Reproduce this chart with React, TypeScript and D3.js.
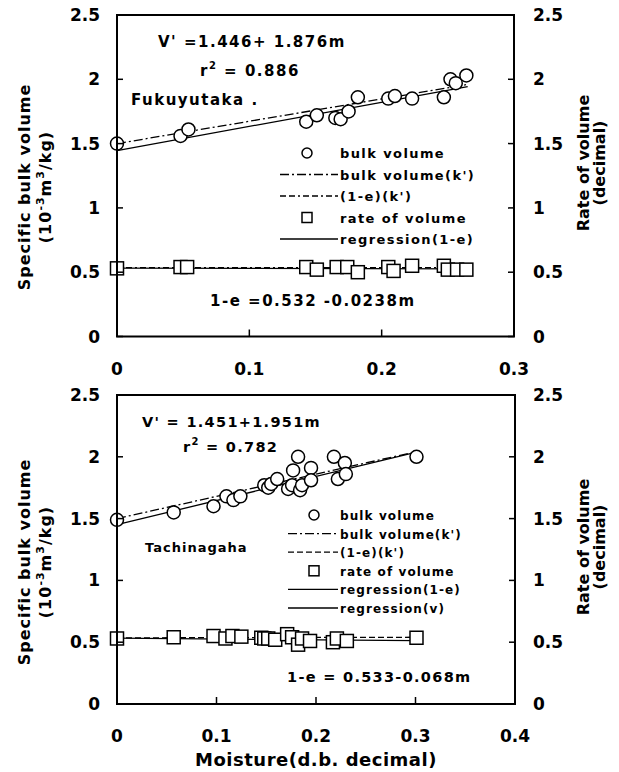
import React from "react";
import * as d3 from "d3";

// ---------- data ----------
const yTicks = [0, 0.5, 1, 1.5, 2, 2.5];
const yTickLabels = ["0", "0.5", "1", "1.5", "2", "2.5"];
const topXTicks = [0, 0.1, 0.2, 0.3];
const topXTickLabels = ["0", "0.1", "0.2", "0.3"];
const botXTicks = [0, 0.1, 0.2, 0.3, 0.4];
const botXTickLabels = ["0", "0.1", "0.2", "0.3", "0.4"];

// Fukuyutaka
const topBulkM = [0, 0.048, 0.054, 0.143, 0.151, 0.165, 0.169, 0.175, 0.182, 0.205, 0.21, 0.223, 0.247, 0.252, 0.256, 0.264];
const topBulkV = [1.5, 1.56, 1.61, 1.67, 1.72, 1.7, 1.69, 1.75, 1.86, 1.85, 1.87, 1.85, 1.86, 2.0, 1.97, 2.03];
const topRateM = [0, 0.048, 0.053, 0.143, 0.151, 0.166, 0.174, 0.182, 0.205, 0.209, 0.223, 0.247, 0.25, 0.257, 0.264];
const topRateV = [0.53, 0.54, 0.54, 0.54, 0.52, 0.54, 0.54, 0.5, 0.54, 0.51, 0.55, 0.55, 0.52, 0.52, 0.52];
const topRegV = [1.446, 1.876]; // intercept, slope
const topRegR = [0.532, -0.0238];
const topBulkK = [[0, 1.5], [0.265, 1.96]];
const topRateK = [[0, 0.536], [0.265, 0.536]];
const topRange = [0, 0.265];

// Tachinagaha
const botBulkM = [0, 0.057, 0.097, 0.11, 0.117, 0.124, 0.148, 0.152, 0.155, 0.161, 0.172, 0.176, 0.177, 0.182, 0.184, 0.186, 0.195, 0.195, 0.218, 0.222, 0.229, 0.23, 0.301];
const botBulkV = [1.49, 1.55, 1.6, 1.68, 1.65, 1.68, 1.77, 1.75, 1.78, 1.82, 1.74, 1.77, 1.89, 2.0, 1.73, 1.77, 1.91, 1.81, 2.0, 1.82, 1.95, 1.86, 2.0];
const botRateM = [0, 0.057, 0.097, 0.109, 0.116, 0.125, 0.145, 0.148, 0.152, 0.159, 0.171, 0.176, 0.182, 0.186, 0.194, 0.217, 0.221, 0.231, 0.301];
const botRateV = [0.53, 0.54, 0.55, 0.53, 0.55, 0.545, 0.536, 0.53, 0.53, 0.52, 0.565, 0.54, 0.48, 0.53, 0.51, 0.5, 0.53, 0.51, 0.536];
const botRegV = [1.451, 1.951];
const botRegR = [0.533, -0.068];
const botBulkK = [[0, 1.5], [0.3, 2.04]];
const botRateK = [[0, 0.535], [0.3, 0.54]];
const botRange = [0, 0.3];

const topLegend = ["bulk volume", "bulk volume(k')", "(1-e)(k')", "rate of volume", "regression(1-e)"];
const botLegend = ["bulk volume", "bulk volume(k')", "(1-e)(k')", "rate of volume", "regression(1-e)", "regression(v)"];

const FONT = "'DejaVu Sans', 'Liberation Sans', sans-serif";
const DASHDOT = "9,3,2,3";
const DASHDOT2 = "6,3,6,3,2,3";
const DASH = "6,3";

type PanelProps = {
  left: number; right: number; top: number; bottom: number;
  xMax: number; xTicks: number[]; xTickLabels: string[];
  bulkM: number[]; bulkV: number[]; rateM: number[]; rateV: number[];
  regV: number[]; regR: number[]; bulkK: number[][]; rateK: number[][]; range: number[];
  rateKDash: string;
};

function Panel(p: PanelProps) {
  const x = d3.scaleLinear().domain([0, p.xMax]).range([p.left, p.right]);
  const y = d3.scaleLinear().domain([0, 2.5]).range([p.bottom, p.top]);
  const line = d3.line<number[]>().x((d) => x(d[0])).y((d) => y(d[1]));
  const regVPts = p.range.map((m) => [m, p.regV[0] + p.regV[1] * m]);
  const regRPts = p.range.map((m) => [m, p.regR[0] + p.regR[1] * m]);
  return (
    <g>
      {/* lines */}
      <path d={line(regVPts) || ""} fill="none" stroke="#000" strokeWidth={1.3} />
      <path d={line(p.bulkK) || ""} fill="none" stroke="#000" strokeWidth={1.3} strokeDasharray={DASHDOT} />
      <path d={line(regRPts) || ""} fill="none" stroke="#000" strokeWidth={1.3} />
      <path d={line(p.rateK) || ""} fill="none" stroke="#000" strokeWidth={1.3} strokeDasharray={p.rateKDash} />
      {/* points */}
      {p.bulkM.map((m, i) => (
        <circle key={"c" + i} cx={x(m)} cy={y(p.bulkV[i])} r={6.5} fill="#fff" stroke="#000" strokeWidth={1.5} />
      ))}
      {p.rateM.map((m, i) => (
        <rect key={"s" + i} x={x(m) - 6.5} y={y(p.rateV[i]) - 6.5} width={13} height={13} fill="#fff" stroke="#000" strokeWidth={1.5} />
      ))}
      {/* frame */}
      <rect x={p.left} y={p.top} width={p.right - p.left} height={p.bottom - p.top} fill="none" stroke="#000" strokeWidth={2} />
      {/* left ticks */}
      {yTicks.map((t, i) => (
        <g key={"yl" + i}>
          <line x1={p.left} x2={p.left + 6} y1={y(t)} y2={y(t)} stroke="#000" strokeWidth={1.5} />
          <line x1={p.right} x2={p.right - 6} y1={y(t)} y2={y(t)} stroke="#000" strokeWidth={1.5} />
          <text x={100} y={y(t) + 6} textAnchor="end" fontFamily={FONT} fontWeight="bold" fontSize={17}>{yTickLabels[i]}</text>
          <text x={533} y={y(t) + 6} textAnchor="start" fontFamily={FONT} fontWeight="bold" fontSize={17}>{yTickLabels[i]}</text>
        </g>
      ))}
      {p.xTicks.map((t, i) => (
        <g key={"xt" + i}>
          <line x1={x(t)} x2={x(t)} y1={p.bottom} y2={p.bottom - 7} stroke="#000" strokeWidth={1.5} />
          <text x={x(t)} y={p.bottom + 38} textAnchor="middle" fontFamily={FONT} fontWeight="bold" fontSize={17}>{p.xTickLabels[i]}</text>
        </g>
      ))}
    </g>
  );
}

function YTitles({ cyL, cyR }: { cyL: number; cyR: number }) {
  return (
    <g fontFamily={FONT} fontWeight="bold">
      <text transform={`translate(30,${cyL}) rotate(-90)`} textAnchor="middle" fontSize={16} letterSpacing={1}>Specific bulk volume</text>
      <text transform={`translate(51,${cyL}) rotate(-90)`} textAnchor="middle" fontSize={16} letterSpacing={1}>
        (10<tspan dy={-7} fontSize={11}>-3</tspan><tspan dy={7}>m</tspan><tspan dy={-7} fontSize={11}>3</tspan><tspan dy={7}>/kg)</tspan>
      </text>
      <text transform={`translate(589,${cyR}) rotate(-90)`} textAnchor="middle" fontSize={16}>Rate of volume</text>
      <text transform={`translate(605,${cyR}) rotate(-90)`} textAnchor="middle" fontSize={16}>(decimal)</text>
    </g>
  );
}

function Legend({ items, x0, y0, dy, fs, ls, lineX1, markX, styles }: {
  items: string[]; x0: number; y0: number; dy: number; fs: number; ls: number; lineX1: number; markX: number; styles: string[];
}) {
  return (
    <g fontFamily={FONT} fontWeight="bold">
      {items.map((t, i) => {
        const yy = y0 + i * dy;
        const s = styles[i];
        return (
          <g key={i}>
            {s === "circle" && <circle cx={markX} cy={yy} r={5} fill="#fff" stroke="#000" strokeWidth={1.5} />}
            {s === "square" && <rect x={markX - 5} y={yy - 5} width={10} height={10} fill="#fff" stroke="#000" strokeWidth={1.5} />}
            {s !== "circle" && s !== "square" && (
              <line x1={lineX1} x2={338} y1={yy} y2={yy} stroke="#000" strokeWidth={1.3} strokeDasharray={s === "solid" ? undefined : s} />
            )}
            <text x={x0} y={yy + 5} fontSize={fs} letterSpacing={ls}>{t}</text>
          </g>
        );
      })}
    </g>
  );
}

export default function App() {
  return (
    <svg width={619} height={772} style={{ position: "absolute", left: 0, top: 0, background: "#fff" }}>
      <rect width={619} height={772} fill="#fff" />
      <Panel left={117} right={514} top={15} bottom={336.5} xMax={0.3} xTicks={topXTicks} xTickLabels={topXTickLabels}
        bulkM={topBulkM} bulkV={topBulkV} rateM={topRateM} rateV={topRateV} regV={topRegV} regR={topRegR}
        bulkK={topBulkK} rateK={topRateK} range={topRange} rateKDash={DASHDOT2} />
      <Panel left={117} right={515} top={395} bottom={704} xMax={0.4} xTicks={botXTicks} xTickLabels={botXTickLabels}
        bulkM={botBulkM} bulkV={botBulkV} rateM={botRateM} rateV={botRateV} regV={botRegV} regR={botRegR}
        bulkK={botBulkK} rateK={botRateK} range={botRange} rateKDash={DASH} />
      <YTitles cyL={187} cyR={163} />
      <YTitles cyL={562} cyR={547} />

      {/* top annotations */}
      <g fontFamily={FONT} fontWeight="bold">
        <text x={158} y={47} fontSize={15} letterSpacing={1.5}>V' =1.446+ 1.876m</text>
        <text x={200} y={76} fontSize={15} letterSpacing={1.5}>r<tspan dy={-7} fontSize={10}>2</tspan><tspan dy={7}> = 0.886</tspan></text>
        <text x={131} y={105} fontSize={15} letterSpacing={1.5}>Fukuyutaka .</text>
        <text x={210} y={306} fontSize={15} letterSpacing={1.5}>1-e =0.532 -0.0238m</text>
      </g>
      <Legend items={topLegend} x0={340} y0={153} dy={21.5} fs={13} ls={1.4} lineX1={280} markX={307}
        styles={["circle", DASHDOT, DASHDOT2, "square", "solid"]} />

      {/* bottom annotations */}
      <g fontFamily={FONT} fontWeight="bold">
        <text x={142} y={427} fontSize={14.5} letterSpacing={1.3}>V' = 1.451+1.951m</text>
        <text x={183} y={452} fontSize={14.5} letterSpacing={1.3}>r<tspan dy={-7} fontSize={10}>2</tspan><tspan dy={7}> = 0.782</tspan></text>
        <text x={145} y={552} fontSize={13} letterSpacing={1}>Tachinagaha</text>
        <text x={287} y={682} fontSize={14.5} letterSpacing={1.3}>1-e = 0.533-0.068m</text>
        <text x={316} y={766} textAnchor="middle" fontSize={18} letterSpacing={0.5}>Moisture(d.b. decimal)</text>
      </g>
      <Legend items={botLegend} x0={340} y0={515} dy={18.6} fs={12} ls={1.1} lineX1={288} markX={314}
        styles={["circle", DASHDOT, DASH, "square", "solid", "solid"]} />
    </svg>
  );
}
